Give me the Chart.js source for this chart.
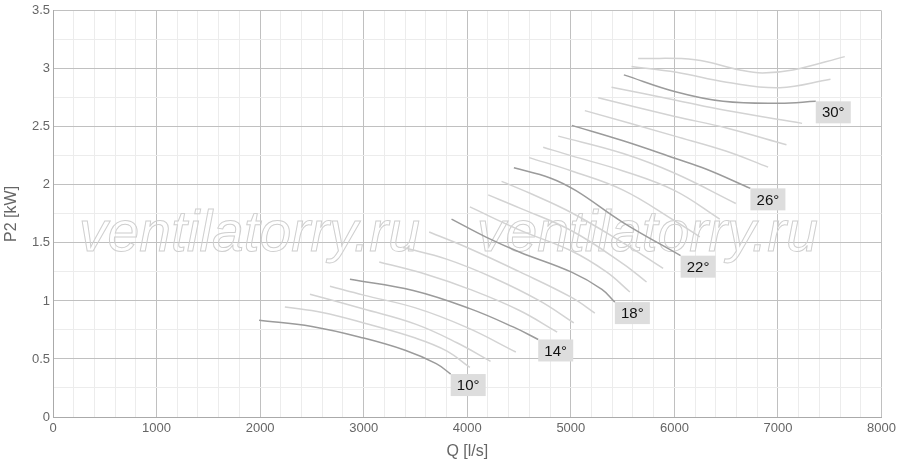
<!DOCTYPE html>
<html>
<head>
<meta charset="utf-8">
<script src="https://cdn.jsdelivr.net/npm/chart.js@4.4.1/dist/chart.umd.min.js"></script>
<style>
    html, body { margin: 0; padding: 0; background: #fff; }
    #wrap { width: 900px; height: 468px; position: relative; }
</style>
</head>
<body>
<div id="wrap"><canvas id="fanChart"></canvas></div>
<script>
// blade angles, one curve per angle: [Q l/s, P2 kW]
const angles = [10, 11, 12, 13, 14, 15, 16, 17, 18, 19, 20, 21, 22, 23, 24, 25, 26, 27, 28, 29, 30, 31, 32];
const labelledAngles = [10, 14, 18, 22, 26, 30];

const curve10 = [[1990, 0.834], [2500, 0.78], [3000, 0.68], [3400, 0.575], [3700, 0.46], [3840, 0.37]];
const curve11 = [[2239, 0.948], [2600, 0.9], [3000, 0.81], [3500, 0.68], [3800, 0.57], [4025, 0.427]];
const curve12 = [[2481, 1.058], [3000, 0.93], [3500, 0.8], [3900, 0.64], [4225, 0.48]];
const curve13 = [[2674, 1.127], [3000, 1.05], [3500, 0.94], [4000, 0.77], [4469, 0.56]];
const curve14 = [[2867, 1.187], [3478, 1.09], [4025, 0.934], [4443, 0.776], [4685, 0.668]];
const curve15 = [[3150, 1.336], [3600, 1.23], [4025, 1.1], [4500, 0.92], [4868, 0.732]];
const curve16 = [[3378, 1.46], [3800, 1.36], [4250, 1.2], [4700, 1.0], [5029, 0.81]];
const curve17 = [[3632, 1.594], [4025, 1.45], [4508, 1.25], [5007, 1.03], [5232, 0.895]];
const curve18 = [[3848, 1.705], [4186, 1.548], [4508, 1.42], [5007, 1.248], [5300, 1.1], [5425, 0.99]];
const curve19 = [[4025, 1.81], [4508, 1.61], [5007, 1.43], [5344, 1.25], [5570, 1.077]];
const curve20 = [[4202, 1.914], [4508, 1.8], [5007, 1.605], [5505, 1.32], [5731, 1.163]];
const curve21 = [[4331, 2.03], [4600, 1.93], [5007, 1.76], [5505, 1.5], [5891, 1.28]];
const curve22 = [[4450, 2.147], [4800, 2.06], [5050, 1.95], [5505, 1.675], [6060, 1.39]];
const curve23 = [[4598, 2.235], [5007, 2.12], [5505, 1.955], [6004, 1.69], [6245, 1.553]];
const curve24 = [[4733, 2.325], [5007, 2.25], [5505, 2.12], [6004, 1.95], [6438, 1.705]];
const curve25 = [[4878, 2.42], [5505, 2.27], [6004, 2.1], [6593, 1.84]];
const curve26 = [[5010, 2.513], [5505, 2.38], [6004, 2.23], [6310, 2.135], [6734, 1.97]];
const curve27 = [[5135, 2.64], [6004, 2.42], [6503, 2.29], [6905, 2.153]];
const curve28 = [[5264, 2.75], [6004, 2.59], [6503, 2.49], [7082, 2.345]];
const curve29 = [[5393, 2.842], [6004, 2.732], [6503, 2.64], [7233, 2.53]];
const curve30 = [[5512, 2.948], [6020, 2.8], [6470, 2.72], [7017, 2.703], [7365, 2.72]];
const curve31 = [[5586, 3.02], [6020, 2.97], [6503, 2.885], [7017, 2.838], [7507, 2.91]];
const curve32 = [[5650, 3.09], [6200, 3.078], [6631, 2.99], [6850, 2.965], [7143, 2.99], [7645, 3.105]];

const curves = [curve10, curve11, curve12, curve13, curve14, curve15, curve16, curve17, curve18, curve19,
    curve20, curve21, curve22, curve23, curve24, curve25, curve26, curve27, curve28, curve29,
    curve30, curve31, curve32];

const datasets = angles.map((angle, i) => {
    const main = labelledAngles.includes(angle);
    return {
        label: angle + "°",
        data: curves[i].map(([q, p]) => ({ x: q, y: p })),
        borderColor: main ? "#9b9b9b" : "#d3d3d3",
        borderWidth: 1.5,
        pointRadius: 0,
        fill: false,
        tension: 0.4,
        order: main ? 0 : 1
    };
});

const watermark = {
    id: "watermark",
    beforeDatasetsDraw(chart) {
        const { ctx, chartArea } = chart;
        ctx.save();
        ctx.font = "italic 57px 'Liberation Sans', Arial, sans-serif";
        ctx.strokeStyle = "#cfcfcf";
        ctx.lineWidth = 1;
        ctx.textBaseline = "alphabetic";
        ctx.strokeText("ventilatorry.ru", chartArea.left + 26, 251);
        ctx.strokeText("ventilatorry.ru", chartArea.left + 424, 251);
        ctx.restore();
    }
};

const angleLabels = {
    id: "angleLabels",
    afterDatasetsDraw(chart) {
        const { ctx, scales } = chart;
        ctx.save();
        ctx.font = "15px 'Liberation Sans', Arial, sans-serif";
        ctx.textAlign = "center";
        ctx.textBaseline = "middle";
        labelledAngles.forEach(angle => {
            const pts = curves[angles.indexOf(angle)];
            const [q, p] = pts[pts.length - 1];
            const px = scales.x.getPixelForValue(q);
            const py = scales.y.getPixelForValue(p);
            ctx.fillStyle = "#dddddd";
            ctx.fillRect(px, py, 35, 22);
            ctx.fillStyle = "#111";
            ctx.fillText(angle + "°", px + 17.5, py + 12);
        });
        ctx.restore();
    }
};

new Chart(document.getElementById("fanChart"), {
    type: "line",
    data: { datasets },
    plugins: [watermark, angleLabels],
    options: {
        responsive: true,
        maintainAspectRatio: false,
        animation: false,
        layout: { padding: { top: 10, right: 18, left: 0, bottom: 0 } },
        plugins: {
            legend: { display: false },
            tooltip: { enabled: false }
        },
        scales: {
            x: {
                type: "linear",
                min: 0,
                max: 8000,
                afterFit(scale) { scale.height = 51; },
                border: { color: "#aaaaaa" },
                grid: {
                    drawTicks: false,
                    color: ctx => (ctx.tick && ctx.tick.value % 1000 === 0) ? "#c0c0c0" : "#ececec"
                },
                ticks: {
                    stepSize: 200,
                    autoSkip: false,
                    maxRotation: 0,
                    padding: 4,
                    color: "#666",
                    font: { size: 13, family: "'Liberation Sans', Arial, sans-serif" },
                    callback: value => value % 1000 === 0 ? String(value) : ""
                },
                title: {
                    display: true,
                    text: "Q [l/s]",
                    color: "#666",
                    padding: { top: 0, bottom: 7 },
                    font: { size: 16, family: "'Liberation Sans', Arial, sans-serif" }
                }
            },
            y: {
                min: 0,
                max: 3.5,
                afterFit(scale) { scale.width = 53; },
                border: { color: "#aaaaaa" },
                grid: {
                    drawTicks: false,
                    color: ctx => (ctx.tick && ctx.tick.value % 0.5 === 0) ? "#c0c0c0" : "#ececec"
                },
                ticks: {
                    stepSize: 0.25,
                    autoSkip: false,
                    padding: 3,
                    color: "#666",
                    font: { size: 13, family: "'Liberation Sans', Arial, sans-serif" },
                    callback: value => value % 0.5 === 0 ? String(value) : ""
                },
                title: {
                    display: true,
                    text: "P2 [kW]",
                    color: "#666",
                    padding: { top: 2, bottom: 0 },
                    font: { size: 16, family: "'Liberation Sans', Arial, sans-serif" }
                }
            }
        }
    }
});
</script>
</body>
</html>
